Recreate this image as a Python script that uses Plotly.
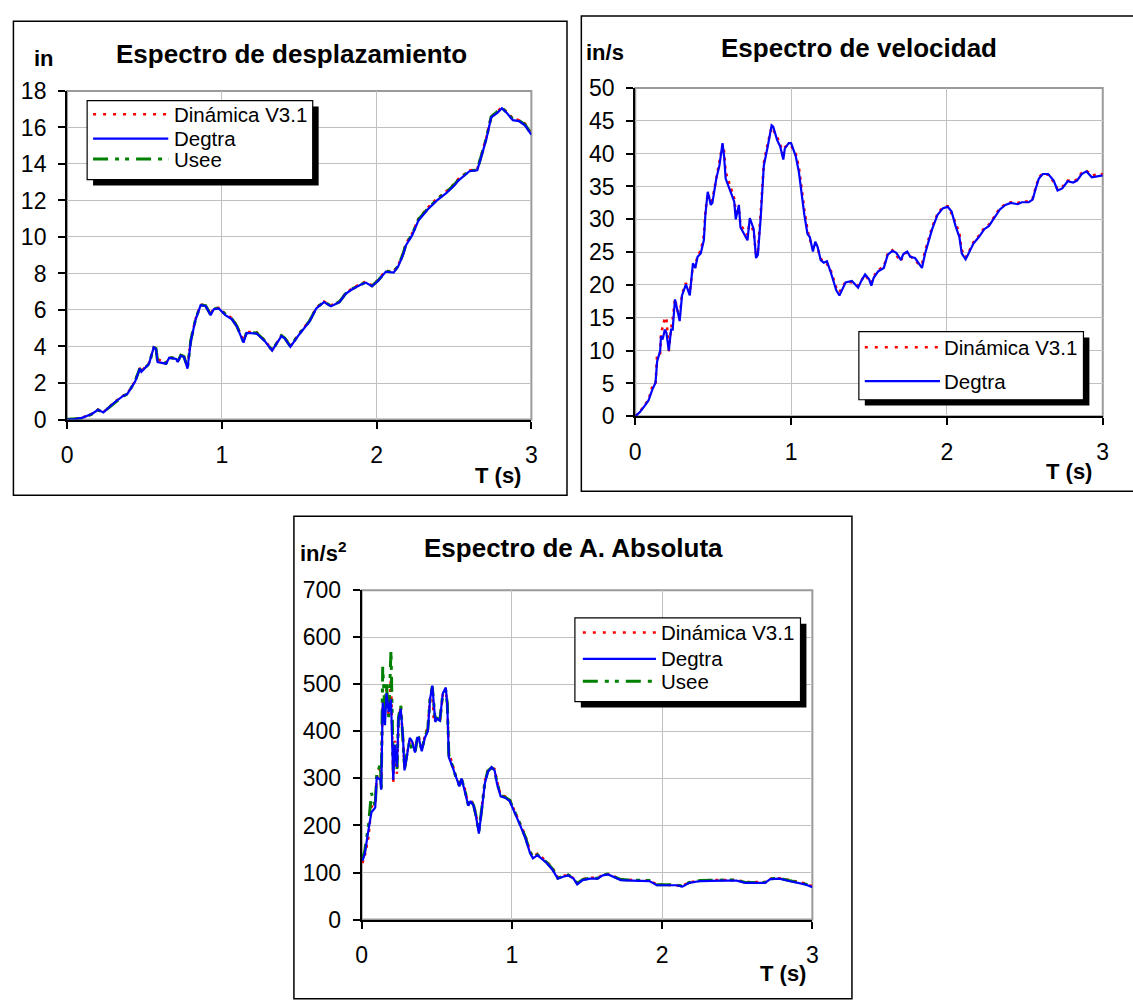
import plotly.graph_objects as go

W, H = 1133, 1005
FONT = "Liberation Sans, Arial, sans-serif"

# ---------------- Espectro de desplazamiento (in) ----------------
t_desp = [0, 0.05, 0.096, 0.16, 0.20, 0.235, 0.277, 0.31, 0.36, 0.39, 0.44, 0.47, 0.48,
          0.53, 0.56, 0.575, 0.585, 0.64, 0.66, 0.705, 0.715, 0.735, 0.756, 0.778, 0.80,
          0.83, 0.863, 0.895, 0.927, 0.948, 0.98, 1.023, 1.065, 1.097, 1.14, 1.16, 1.225,
          1.28, 1.325, 1.385, 1.407, 1.443, 1.50, 1.567, 1.61, 1.66, 1.705, 1.76, 1.80,
          1.845, 1.90, 1.93, 1.97, 2.01, 2.06, 2.11, 2.14, 2.17, 2.19, 2.23, 2.27, 2.33,
          2.39, 2.45, 2.50, 2.53, 2.60, 2.65, 2.68, 2.71, 2.74, 2.78, 2.81, 2.84, 2.88,
          2.92, 2.96, 3.0]
desp_degtra = [0, 0.02, 0.09, 0.30, 0.53, 0.39, 0.71, 0.96, 1.28, 1.40, 2.08, 2.79, 2.61,
               3.06, 3.95, 3.86, 3.15, 3.06, 3.38, 3.32, 3.15, 3.50, 3.42, 2.79, 4.30,
               5.46, 6.26, 6.22, 5.72, 6.04, 6.08, 5.72, 5.49, 5.10, 4.21, 4.75, 4.71,
               4.27, 3.77, 4.57, 4.44, 3.98, 4.66, 5.37, 6.08, 6.43, 6.20, 6.43, 6.88,
               7.15, 7.40, 7.50, 7.30, 7.60, 8.10, 8.05, 8.40, 9.00, 9.55, 10.1, 10.9, 11.5,
               12.0, 12.4, 12.8, 13.1, 13.6, 13.65, 14.5, 15.4, 16.55, 16.8, 17.05, 16.8, 16.4,
               16.35, 16.1, 15.6]
desp_dinamica = [0, 0.03, 0.10, 0.31, 0.55, 0.40, 0.73, 0.98, 1.30, 1.42, 2.12, 2.82, 2.64,
                 3.10, 3.92, 3.95, 3.30, 3.10, 3.40, 3.35, 3.18, 3.52, 3.45, 2.85, 4.40,
                 5.50, 6.30, 6.25, 5.78, 6.10, 6.12, 5.80, 5.55, 5.15, 4.30, 4.80, 4.78,
                 4.32, 3.80, 4.60, 4.48, 4.02, 4.72, 5.42, 6.12, 6.47, 6.25, 6.47, 6.92,
                 7.20, 7.45, 7.55, 7.35, 7.65, 8.15, 8.10, 8.45, 9.10, 9.65, 10.2, 11.0, 11.6,
                 12.1, 12.5, 12.9, 13.2, 13.65, 13.7, 14.6, 15.5, 16.6, 16.9, 17.1, 16.85, 16.5,
                 16.4, 16.2, 15.65]
desp_usee = [0.02, 0.03, 0.05, 0.29, 0.52, 0.40, 0.70, 0.95, 1.27, 1.39, 2.10, 2.80, 2.62,
             3.05, 3.93, 3.88, 3.18, 3.08, 3.40, 3.34, 3.17, 3.52, 3.44, 2.82, 4.35,
             5.48, 6.28, 6.24, 5.75, 6.06, 6.10, 5.76, 5.52, 5.12, 4.25, 4.78, 4.74,
             4.30, 3.79, 4.59, 4.46, 4.00, 4.69, 5.40, 6.10, 6.45, 6.22, 6.45, 6.90,
             7.17, 7.42, 7.52, 7.32, 7.62, 8.12, 8.07, 8.42, 9.05, 9.60, 10.15, 10.95, 11.55,
             12.05, 12.45, 12.85, 13.15, 13.62, 13.67, 14.55, 15.45, 16.58, 16.85, 17.08, 16.82, 16.45,
             16.38, 16.15, 15.62]

# ---------------- Espectro de velocidad (in/s) ----------------
t_vel = [0, 0.03, 0.06, 0.085, 0.11, 0.13, 0.14, 0.16, 0.165, 0.175, 0.19, 0.20, 0.215,
         0.23, 0.24, 0.255, 0.27, 0.285, 0.30, 0.325, 0.35, 0.37, 0.385, 0.40, 0.42, 0.44,
         0.45, 0.465, 0.485, 0.495, 0.52, 0.54, 0.56, 0.57, 0.58, 0.61, 0.635, 0.645, 0.665,
         0.675, 0.70, 0.72, 0.735, 0.76, 0.775, 0.787, 0.805, 0.825, 0.85, 0.875, 0.885,
         0.91, 0.93, 0.95, 0.96, 0.985, 1.0, 1.03, 1.05, 1.065, 1.085, 1.105, 1.12, 1.14,
         1.155, 1.17, 1.19, 1.21, 1.23, 1.255, 1.28, 1.29, 1.31, 1.33, 1.35, 1.39, 1.41,
         1.43, 1.45, 1.475, 1.50, 1.515, 1.53, 1.56, 1.595, 1.62, 1.65, 1.675, 1.705, 1.72,
         1.745, 1.765, 1.795, 1.825, 1.84, 1.86, 1.88, 1.905, 1.94, 1.975, 2.005, 2.03,
         2.055, 2.08, 2.095, 2.12, 2.135, 2.17, 2.205, 2.24, 2.27, 2.305, 2.34, 2.375, 2.41,
         2.455, 2.48, 2.525, 2.55, 2.57, 2.59, 2.615, 2.65, 2.685, 2.71, 2.74, 2.775, 2.81,
         2.835, 2.865, 2.895, 2.93, 2.965, 3.0]
vel_degtra = [0, 0.64, 1.6, 2.4, 4.1, 5.1, 8.3, 10.0, 12.2, 11.7, 13.2, 12.7, 10.0,
              13.2, 13.2, 17.8, 16.2, 14.5, 18.4, 20.1, 18.4, 23.3, 22.6, 24.3, 24.8, 26.8,
              30.7, 34.2, 32.2, 32.5, 36.2, 38.2, 41.6, 39.6, 36.2, 34.4, 32.7, 30.0, 32.2,
              28.8, 27.8, 26.8, 30.2, 28.5, 24.1, 24.6, 30.3, 38.2, 41.1, 44.3, 44.1,
              42.1, 41.1, 39.1, 40.8, 41.6, 41.6, 39.6, 37.2, 34.2, 30.7, 27.8, 27.3, 25.1,
              26.6, 25.8, 23.8, 23.4, 23.6, 21.9, 20.1, 19.2, 18.4, 19.4, 20.4, 20.6, 20.1,
              19.6, 20.6, 21.6, 20.9, 19.9, 21.1, 22.1, 22.6, 24.6, 25.2, 24.9, 23.8, 24.7,
              25.1, 24.3, 24.1, 23.1, 22.6, 24.8, 26.3, 28.5, 30.7, 31.7, 31.9, 31.2,
              29.0, 27.3, 24.8, 23.9, 24.6, 26.3, 27.3, 28.5, 29.0, 30.3, 31.5, 32.2, 32.5,
              32.3, 32.6, 32.6, 33.0, 34.7, 36.2, 36.9, 36.9, 35.9, 34.4, 34.7, 35.8, 35.6,
              35.9, 36.9, 37.3, 36.4, 36.6, 36.7]
vel_dinamica = [0, 0.7, 1.7, 2.5, 4.6, 4.8, 9.5, 9.6, 12.5, 13.5, 15.0, 15.0, 9.9,
                13.4, 14.8, 17.9, 16.2, 15.2, 18.6, 20.3, 18.8, 23.0, 22.8, 24.5, 25.2, 27.5,
                31.2, 34.0, 32.6, 33.0, 36.6, 38.8, 41.4, 40.4, 37.2, 35.0, 33.2, 31.0, 31.6,
                29.2, 28.4, 27.6, 29.8, 28.0, 24.6, 25.2, 31.0, 38.6, 41.6, 44.0, 43.6,
                42.6, 41.4, 40.0, 41.0, 41.4, 41.2, 40.0, 38.0, 35.0, 31.5, 28.4, 27.0, 25.6,
                26.5, 25.6, 24.0, 23.5, 23.2, 22.2, 20.4, 19.6, 18.9, 19.8, 20.5, 20.4, 20.2,
                19.9, 20.7, 21.5, 20.7, 20.3, 21.3, 22.3, 22.8, 24.8, 25.3, 24.6, 23.6, 24.8,
                24.9, 24.4, 23.8, 23.0, 23.2, 25.2, 26.8, 28.8, 30.9, 31.9, 32.0, 30.9,
                29.5, 27.9, 25.3, 24.2, 24.8, 26.5, 27.5, 28.7, 29.2, 30.5, 31.7, 32.3, 32.6,
                32.5, 32.7, 32.7, 33.2, 34.9, 36.4, 37.0, 36.8, 35.7, 34.6, 34.9, 35.9, 35.8,
                36.1, 37.1, 37.4, 36.7, 36.8, 36.9]

# ---------------- Espectro de A. Absoluta (in/s^2) ----------------
t_acel = [0.005, 0.02, 0.045, 0.065, 0.09, 0.10, 0.125, 0.13, 0.14, 0.155, 0.165, 0.18,
          0.195, 0.21, 0.22, 0.235, 0.245, 0.26, 0.275, 0.285, 0.30, 0.32, 0.335, 0.355,
          0.37, 0.38, 0.40, 0.42, 0.44, 0.455, 0.47, 0.48, 0.49, 0.50, 0.52, 0.54, 0.56,
          0.57, 0.58, 0.605, 0.63, 0.65, 0.665, 0.685, 0.71, 0.725, 0.745, 0.76, 0.78, 0.80,
          0.82, 0.84, 0.865, 0.885, 0.90, 0.925, 0.955, 0.985, 1.015, 1.05, 1.09, 1.12, 1.14,
          1.17, 1.195, 1.23, 1.27, 1.305, 1.34, 1.375, 1.41, 1.435, 1.47, 1.52, 1.57, 1.605,
          1.64, 1.675, 1.725, 1.80, 1.87, 1.915, 1.965, 2.04, 2.095, 2.135, 2.18, 2.255,
          2.325, 2.40, 2.495, 2.555, 2.625, 2.685, 2.72, 2.78, 2.845, 2.905, 2.95, 3.0]
acel_degtra = [125, 139, 190, 228, 238, 303, 297, 276, 461, 413, 481, 441,
               468, 297, 372, 324, 427, 448, 386, 317, 345, 386, 379, 355,
               386, 386, 358, 386, 400, 468, 497, 461, 420, 427, 423, 481, 493,
               455, 345, 324, 303, 283, 300, 276, 242, 252, 242, 221, 183, 235,
               290, 314, 324, 317, 290, 262, 259, 252, 228, 204, 173, 142, 130,
               137, 130, 121, 106, 87, 91, 94, 87, 75, 84, 87, 87, 94,
               96, 91, 84, 83, 83, 82, 73, 73, 73, 70, 78, 82,
               83, 83, 83, 78, 78, 78, 86, 87, 82, 78, 75, 69]
acel_dinamica = [120, 135, 175, 240, 245, 300, 330, 300, 470, 440, 490, 430,
                 513, 290, 380, 310, 420, 455, 380, 320, 350, 382, 380, 358,
                 384, 388, 360, 390, 410, 470, 492, 420, 425, 423, 420, 478, 483,
                 460, 355, 330, 300, 290, 298, 280, 245, 255, 245, 225, 190, 240,
                 295, 318, 322, 320, 295, 265, 262, 255, 232, 208, 178, 146, 134,
                 140, 133, 124, 110, 90, 93, 95, 88, 78, 86, 89, 89, 95,
                 97, 92, 86, 84, 84, 83, 75, 74, 74, 72, 79, 83,
                 84, 84, 84, 80, 80, 80, 87, 88, 84, 80, 77, 71]
acel_usee = [130, 145, 200, 269, 240, 310, 330, 275, 537, 440, 500, 430,
             572, 320, 360, 320, 430, 455, 380, 320, 350, 380, 360, 355,
             384, 386, 360, 388, 404, 470, 495, 455, 422, 428, 424, 479, 487,
             458, 350, 326, 300, 285, 298, 278, 243, 253, 243, 222, 186, 238,
             292, 316, 323, 318, 292, 264, 260, 254, 230, 206, 175, 144, 132,
             138, 131, 122, 108, 88, 92, 95, 88, 77, 85, 88, 88, 95,
             97, 92, 85, 84, 84, 83, 74, 74, 74, 71, 79, 83,
             84, 84, 84, 79, 79, 79, 87, 88, 83, 79, 76, 70]

# ---------------- styling ----------------
RED, BLUE, GREEN = "#ff0000", "#0000ff", "#008000"
DOT = "3px,5px"
DASHDOTDOT = "15px,7px,4px,6px,4px,7px"


def fx(x):
    """page x pixel -> paper fraction"""
    return x / W


def fy(y):
    """page y pixel -> paper fraction"""
    return 1 - y / H


fig = go.Figure()


def add_series(t, y, color, width, dash, xa, ya):
    fig.add_trace(go.Scatter(x=t, y=y, mode="lines", xaxis=xa, yaxis=ya,
                             line=dict(color=color, width=width, dash=dash),
                             showlegend=False, hoverinfo="skip"))


# displacement
add_series(t_desp, desp_dinamica, RED, 2.5, DOT, "x", "y")
add_series(t_desp, desp_usee, GREEN, 3, DASHDOTDOT, "x", "y")
add_series(t_desp, desp_degtra, BLUE, 2.2, "solid", "x", "y")
# velocity
add_series(t_vel, vel_dinamica, RED, 2.5, DOT, "x2", "y2")
add_series(t_vel, vel_degtra, BLUE, 2.2, "solid", "x2", "y2")
# acceleration
add_series(t_acel, acel_dinamica, RED, 2.5, DOT, "x3", "y3")
add_series(t_acel, acel_usee, GREEN, 3, DASHDOTDOT, "x3", "y3")
add_series(t_acel, acel_degtra, BLUE, 2.2, "solid", "x3", "y3")

tickfont = dict(family=FONT, size=23, color="black")
base = dict(showline=True, linecolor="black", linewidth=2, ticks="outside",
            ticklen=7, tickwidth=1.5, tickcolor="black", showgrid=True,
            gridcolor="#c0c0c0", gridwidth=1, zeroline=False, tickfont=tickfont,
            fixedrange=True)


def xaxis(x0, x1, anchor):
    return dict(base, domain=[fx(x0), fx(x1)], range=[0, 3], tickvals=[0, 1, 2, 3],
                anchor=anchor, ticklabelstandoff=7)


def yaxis(y_top, y_bot, ymax, dt, anchor):
    return dict(base, domain=[fy(y_bot), fy(y_top)], range=[0, ymax], dtick=dt,
                tick0=0, anchor=anchor, ticklabelstandoff=7)


# plot areas (page pixels: left, right, top, bottom)
P1 = (61.7, 531, 80, 417.3)
P2 = (636, 1108.5, 77, 414)
P3 = (359.5, 815, 592.5, 930.7)

fig.update_layout(
    width=W, height=H, margin=dict(l=0, r=0, t=0, b=0), autosize=False,
    paper_bgcolor="white", plot_bgcolor="white", showlegend=False,
    xaxis=xaxis(P1[0], P1[1], "y"), yaxis=yaxis(P1[2], P1[3], 18, 2, "x"),
    xaxis2=xaxis(P2[0], P2[1], "y2"), yaxis2=yaxis(P2[2], P2[3], 50, 5, "x2"),
    xaxis3=xaxis(P3[0], P3[1], "y3"), yaxis3=yaxis(P3[2], P3[3], 700, 100, "x3"),
)

shapes = []
annotations = []

# outer frames around each chart (the last two run past the page edge)
for (l, t, r, b) in [(7.5, 8.5, 567, 495), (581.5, 3, 1140, 491), (291, 516.5, 855, 1012)]:
    shapes.append(dict(type="rect", xref="paper", yref="paper", x0=fx(l), x1=fx(r),
                       y0=fy(b), y1=fy(t), line=dict(color="black", width=1.5),
                       layer="above"))

# grey border of each plot area (left/bottom covered by the black axis lines)
for xa, ya in [("x", "y"), ("x2", "y2"), ("x3", "y3")]:
    shapes.append(dict(type="rect", xref=f"{xa} domain", yref=f"{ya} domain",
                       x0=0, x1=1, y0=0, y1=1, line=dict(color="#9a9a9a", width=2),
                       layer="below"))


def legend(box, rows, sample_x, text_x):
    l, t, r, b = box
    off = 6
    shapes.append(dict(type="rect", xref="paper", yref="paper",
                       x0=fx(l + off), x1=fx(r + off), y0=fy(b + off), y1=fy(t + off),
                       fillcolor="black", line=dict(width=0), layer="above"))
    shapes.append(dict(type="rect", xref="paper", yref="paper",
                       x0=fx(l), x1=fx(r), y0=fy(b), y1=fy(t),
                       fillcolor="white", line=dict(color="black", width=1.2),
                       layer="above"))
    for (label, color, width, dash), yrow in rows:
        shapes.append(dict(type="line", xref="paper", yref="paper",
                           x0=fx(sample_x[0]), x1=fx(sample_x[1]), y0=fy(yrow), y1=fy(yrow),
                           line=dict(color=color, width=width, dash=dash), layer="above"))
        annotations.append(dict(text=label, xref="paper", yref="paper", x=fx(text_x),
                                y=fy(yrow), xanchor="left", yanchor="middle",
                                showarrow=False,
                                font=dict(family=FONT, size=20.5, color="black")))


S_DIN = ("Dinámica V3.1", RED, 2.5, "3px,7px")
S_DEG = ("Degtra", BLUE, 2.2, "solid")
S_USE = ("Usee", GREEN, 3, DASHDOTDOT)

legend((82, 90, 310, 171), [(S_DIN, 104), (S_DEG, 129), (S_USE, 150)], (88, 164), 168)
legend((862, 327, 1089, 397), [(S_DIN, 343), (S_DEG, 378)], (868, 944), 946)
legend((575, 621, 803, 707), [(S_DIN, 636), (S_DEG, 663), (S_USE, 686)], (583, 657), 660)


def label(text, x, y, size):
    annotations.append(dict(text=text, xref="paper", yref="paper", x=fx(x), y=fy(y),
                            xanchor="center", yanchor="middle", showarrow=False,
                            font=dict(family=FONT, size=size, color="black",
                                      weight="bold")))


# chart titles
label("Espectro de desplazamiento", 288.5, 42, 26)
label("Espectro de velocidad", 862, 36, 26)
label("Espectro de A. Absoluta", 573.5, 549, 26)
# unit labels
label("in", 38, 47, 22)
label("in/s", 605, 41, 22)
label("in/s<sup>2</sup>", 320, 553, 22)
label("T (s)", 497, 475, 22)
label("T (s)", 1074, 471, 22)
label("T (s)", 785, 986, 22)

fig.update_layout(shapes=shapes, annotations=annotations)
fig.write_html("out.html")
